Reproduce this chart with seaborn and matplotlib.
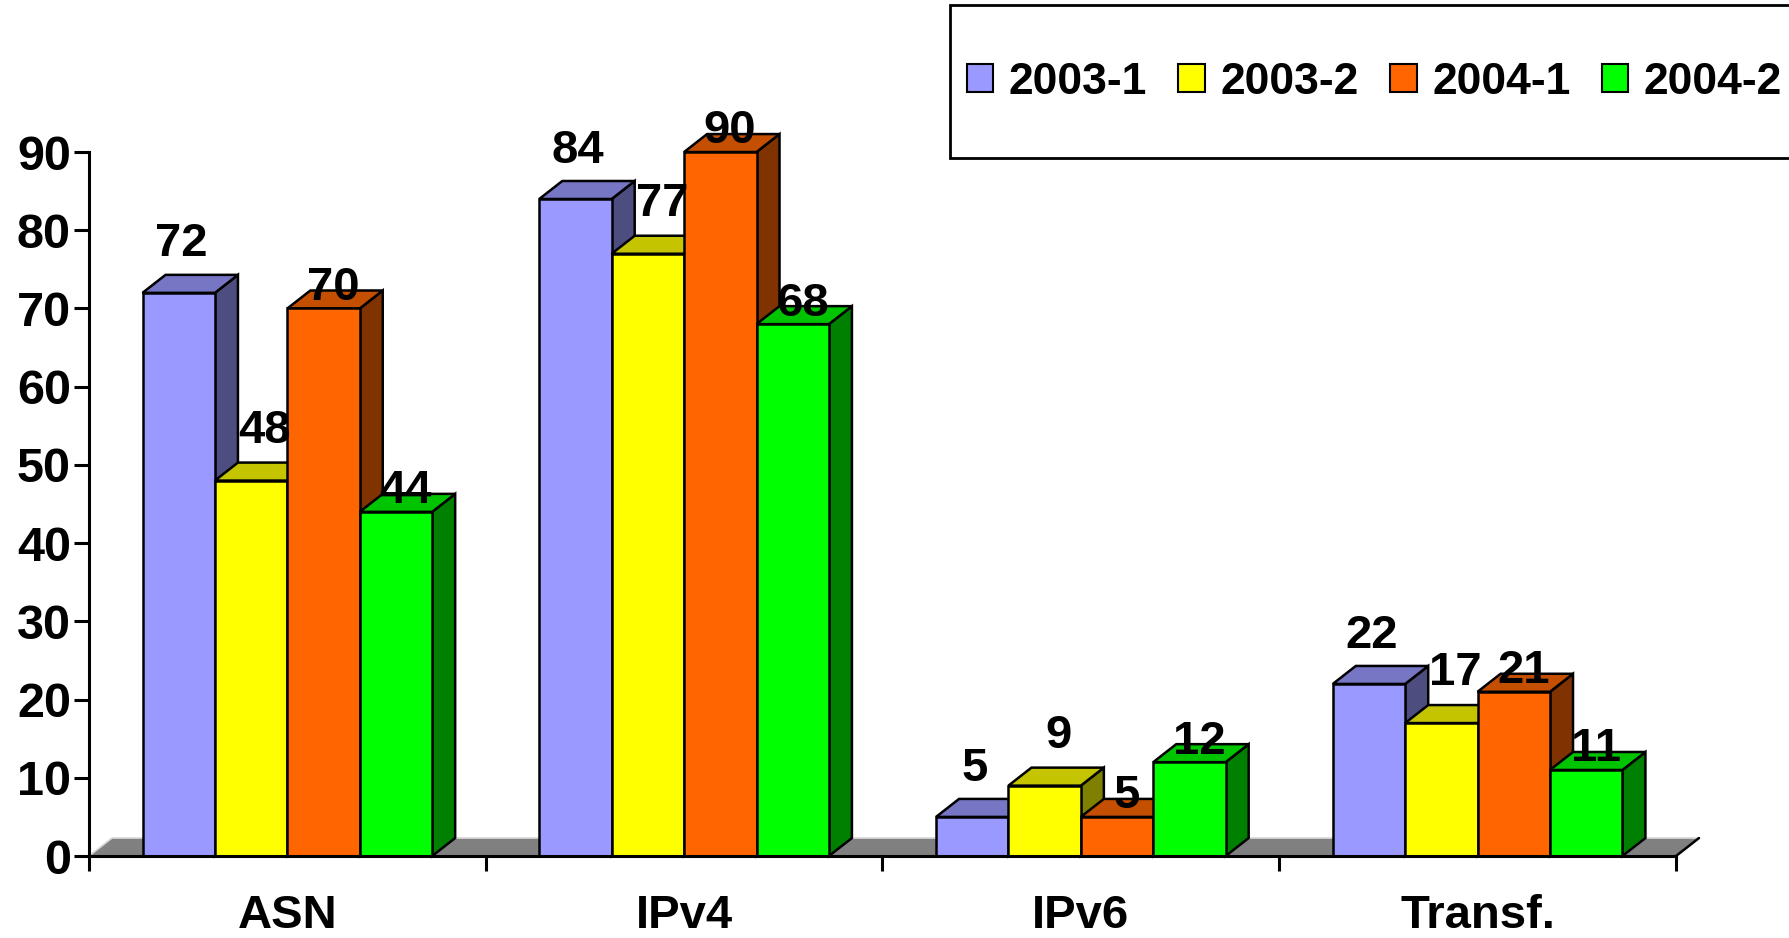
import numpy as np
import pandas as pd
import seaborn as sns
import matplotlib.pyplot as plt
from matplotlib.patches import Polygon, Rectangle, Patch
from matplotlib.colors import to_rgb

categories = ['ASN', 'IPv4', 'IPv6', 'Transf.']
periods = ['2003-1', '2003-2', '2004-1', '2004-2']
values_2003_1 = [72, 84, 5, 22]
values_2003_2 = [48, 77, 9, 17]
values_2004_1 = [70, 90, 5, 21]
values_2004_2 = [44, 68, 12, 11]
colors = ['#9999FF', '#FFFF00', '#FF6600', '#00FF00']

rows = []
for period, vals in zip(periods, [values_2003_1, values_2003_2, values_2004_1, values_2004_2]):
    for cat, v in zip(categories, vals):
        rows.append({'cat': cat, 'period': period, 'value': v})
df = pd.DataFrame(rows)

sns.set_style('white')
plt.rcParams['font.family'] = ['Liberation Sans', 'DejaVu Sans']
plt.rcParams['font.weight'] = 'bold'
plt.rcParams['text.color'] = 'black'
plt.rcParams['xtick.color'] = 'black'
plt.rcParams['ytick.color'] = 'black'

fig = plt.figure(figsize=(17.9, 9.38), dpi=100)
ax = fig.add_axes([0.0497, 0.0874, 0.8866, 0.7505])

sns.barplot(data=df, x='cat', y='value', hue='period', palette=colors,
            width=0.73, gap=0, saturation=1, edgecolor='black', linewidth=1.8,
            legend=False, ax=ax, errorbar=None)

# depth of the fake 3d extrusion (data units)
DX = 0.058
DY = 2.3

ax.set_xlim(-0.5, 3.5)
ax.set_ylim(0, 90)

# grey floor
floor = Polygon([(-0.5, 0), (3.5, 0), (3.5 + DX, DY), (-0.5 + DX, DY)],
                closed=True, facecolor='#808080', edgecolor='#d8d8d8',
                linewidth=1.2, zorder=0.5, clip_on=False)
ax.add_patch(floor)
ax.plot([3.5, 3.5 + DX], [0, DY], color='black', lw=1.8, zorder=0.6, clip_on=False)

# label offsets per series (points): (x, y)
label_shift = [(2, 19), (10, 20), (7, -1), (7, -1)]

for j, cont in enumerate(ax.containers):
    base = to_rgb(colors[j])
    top_c = tuple(c * 0.77 for c in base)
    side_c = tuple(c * 0.5 for c in base)
    z = 10 + 3 * j
    for bar in cont:
        x0 = bar.get_x()
        w = bar.get_width()
        h = bar.get_height()
        side = Polygon([(x0 + w, 0), (x0 + w + DX, DY), (x0 + w + DX, h + DY), (x0 + w, h)],
                       closed=True, facecolor=side_c, edgecolor='black', lw=1.8,
                       zorder=z, clip_on=False)
        top = Polygon([(x0, h), (x0 + DX, h + DY), (x0 + w + DX, h + DY), (x0 + w, h)],
                      closed=True, facecolor=top_c, edgecolor='black', lw=1.8,
                      zorder=z + 1, clip_on=False)
        ax.add_patch(side)
        ax.add_patch(top)
        bar.set_zorder(z + 2)
        bar.set_clip_on(False)
        ax.annotate(f'{int(h)}', (x0 + w / 2, h), xytext=label_shift[j],
                    textcoords='offset points', ha='center', va='bottom',
                    fontsize=34, fontweight='bold', color='black', zorder=50,
                    annotation_clip=False)

# axes styling
for s in ['top', 'right']:
    ax.spines[s].set_visible(False)
for s in ['left', 'bottom']:
    ax.spines[s].set_linewidth(2.2)
    ax.spines[s].set_color('black')
    ax.spines[s].set_zorder(40)

ax.set_yticks(np.arange(0, 91, 10))
ax.tick_params(axis='y', which='major', direction='out', length=11, width=2.2,
               labelsize=35, pad=2, left=True)
ax.set_xticks([-0.5, 0.5, 1.5, 2.5, 3.5])
ax.set_xticklabels([])
ax.set_xticks(range(len(categories)), minor=True)
ax.set_xticklabels(categories, minor=True, fontsize=34, fontweight='bold')
ax.tick_params(axis='x', which='major', direction='out', length=11, width=2.2, bottom=True)
ax.tick_params(axis='x', which='minor', length=0, pad=27)
for lbl in ax.get_yticklabels():
    lbl.set_fontweight('bold')
ax.set_xlabel('')
ax.set_ylabel('')

# legend box extending past the right edge
fig.patches.append(Rectangle((0.531, 0.832), 0.6, 0.163, transform=fig.transFigure,
                             facecolor='white', edgecolor='black', lw=2, zorder=0))
handles = [Patch(facecolor=c, edgecolor='black', lw=1.5) for c in colors]
leg = fig.legend(handles, periods, loc='center left', bbox_to_anchor=(0.540, 0.912),
                 ncol=4, frameon=False, handlelength=0.6, handleheight=0.6,
                 handletextpad=0.35, columnspacing=0.7, borderpad=0, borderaxespad=0,
                 prop={'weight': 'bold', 'size': 32})

plt.savefig('out.png', dpi=100)
